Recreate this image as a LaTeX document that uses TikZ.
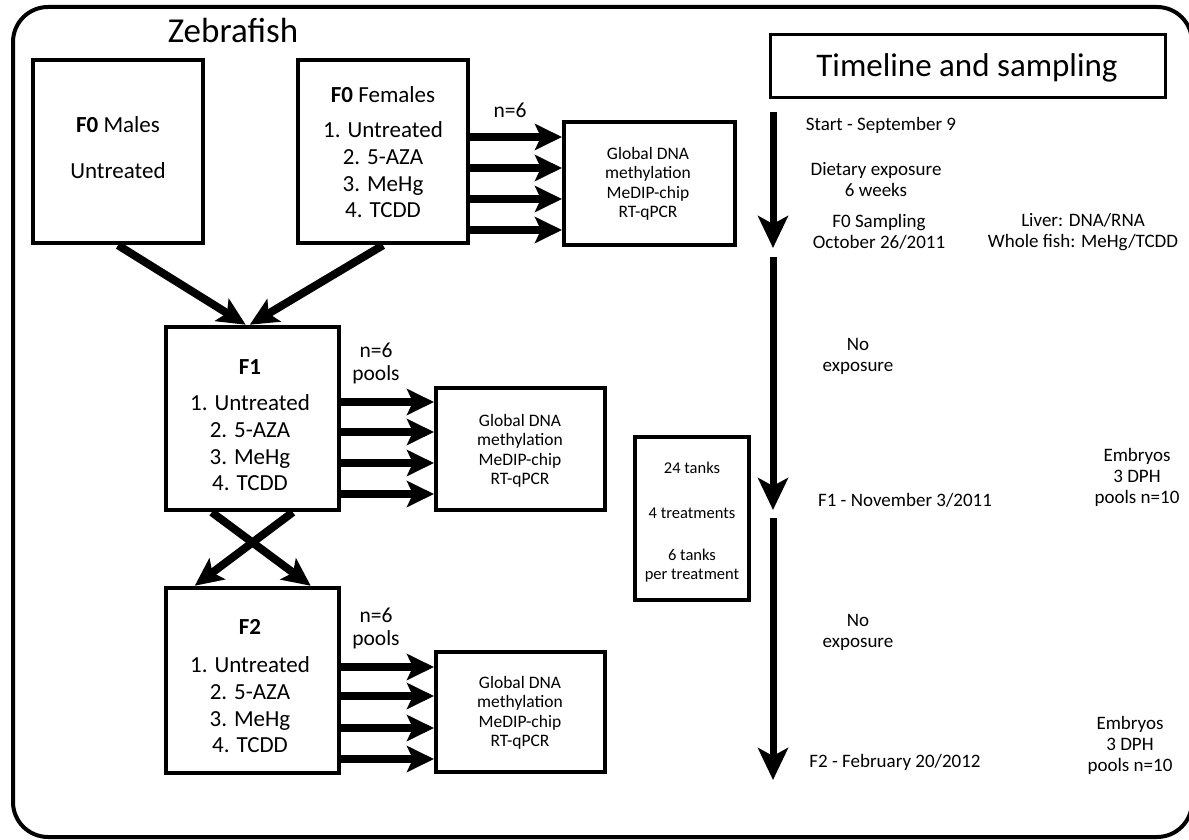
\documentclass[tikz,border=0pt]{standalone}
\usepackage{fontspec}
\setmainfont{Carlito}
\usetikzlibrary{arrows.meta}
\begin{document}
\begin{tikzpicture}[x=1pt,y=-1pt,
  box/.style={draw,line width=4.5pt,inner sep=0pt},
  rbox/.style={draw,line width=4pt,inner sep=0pt},
  fat/.style={line width=7.5pt,-{Stealth[length=27pt,width=26pt,inset=6pt]}},
  cross/.style={line width=8pt,-{Stealth[length=28pt,width=26pt,inset=6pt]}},
  tl/.style={line width=7pt,-{Stealth[length=32pt,width=30pt,inset=8pt]}},
  big/.style={inner sep=0pt,align=center,font=\fontsize{23}{26.7}\selectfont},
  nlab/.style={inner sep=0pt,align=center,font=\fontsize{21.5}{23}\selectfont},
  res/.style={inner sep=0pt,align=center,font=\fontsize{17.5}{19.5}\selectfont},
  tlt/.style={inner sep=0pt,align=center,font=\fontsize{19}{21}\selectfont},
  tank/.style={inner sep=0pt,align=center,font=\fontsize{16.5}{19}\selectfont}]
\useasboundingbox (0,0) rectangle (1189,840);
\fill[white] (0,0) rectangle (1189,840);
% outer frame
\draw[line width=4pt,rounded corners=35pt] (13,7) rectangle (1192,837);
\node[inner sep=0pt,font=\fontsize{35}{40}\selectfont] (zf) at (233,30) {Zebrafish};

% boxes
\node[box,minimum width=170pt,minimum height=183pt] (f0m) at (118,151.5) {};
\node[box,minimum width=170pt,minimum height=183pt] (f0f) at (383,151.5) {};
\node[rbox,minimum width=171pt,minimum height=123pt] (r1) at (649.5,183.5) {};
\node[box,minimum width=173pt,minimum height=183pt] (f1) at (252.5,418.5) {};
\node[rbox,minimum width=169pt,minimum height=122pt] (r2) at (520.5,449) {};
\node[box,minimum width=173pt,minimum height=185pt] (f2) at (252.5,680.5) {};
\node[rbox,minimum width=169pt,minimum height=120pt] (r3) at (520.5,712) {};
\node[draw,line width=3pt,minimum width=395pt,minimum height=63pt,inner sep=0pt] (tlb) at (967.5,66.5) {};
\node[box,minimum width=114pt,minimum height=163pt] (tanks) at (692,518.5) {};

% texts in boxes
\node[big] (f0mt) at (118,125) {\textbf{F0} Males};
\node[big] (f0mu) at (118,171) {Untreated};
\node[big] (f0ft) at (383,95) {\textbf{F0} Females};
\node[big] (f0fl) at (383,170) {1. Untreated\\2. 5-AZA\\3. MeHg\\4. TCDD};
\node[big] (f1t) at (250,367) {\textbf{F1}};
\node[big] (f1l) at (250,443) {1. Untreated\\2. 5-AZA\\3. MeHg\\4. TCDD};
\node[big] (f2t) at (250,627) {\textbf{F2}};
\node[big] (f2l) at (250,705) {1. Untreated\\2. 5-AZA\\3. MeHg\\4. TCDD};
\node[res] (r1t) at (648,184) {Global DNA\\methylation\\MeDIP-chip\\RT-qPCR};
\node[res] (r2t) at (520,451) {Global DNA\\methylation\\MeDIP-chip\\RT-qPCR};
\node[res] (r3t) at (520,713) {Global DNA\\methylation\\MeDIP-chip\\RT-qPCR};
\node[nlab] (n1) at (510,110) {n=6};
\node[nlab] (n2) at (376,363) {n=6\\pools};
\node[nlab] (n3) at (376,628) {n=6\\pools};
\node[inner sep=0pt,font=\fontsize{33}{36}\selectfont] (tlbt) at (967,68) {Timeline and sampling};

% timeline labels
\node[tlt] (s1) at (881,125) {Start - September 9};
\node[tlt] (s2) at (876,180) {Dietary exposure\\6 weeks};
\node[tlt] (s3) at (879,232) {F0 Sampling\\October 26/2011};
\node[tlt] (s4) at (1083,232) {Liver: DNA/RNA\\Whole fish: MeHg/TCDD};
\node[tlt] (s5) at (858,356) {No\\exposure};
\node[tlt] (s6) at (905,500) {F1 - November 3/2011};
\node[tlt] (s7) at (1137,477) {Embryos\\3 DPH\\pools n=10};
\node[tlt] (s8) at (858,632) {No\\exposure};
\node[tlt] (s9) at (895,762) {F2 - February 20/2012};
\node[tlt] (s10) at (1130,745) {Embryos\\3 DPH\\pools n=10};
\node[tank] (t1) at (692,468) {24 tanks};
\node[tank] (t2) at (692,513) {4 treatments};
\node[tank] (t3) at (692,566) {6 tanks\\per treatment};

% timeline arrows
\coordinate (a1s) at (773,112); \coordinate (a1e) at (773,248);
\coordinate (a2s) at (773,257); \coordinate (a2e) at (773,510);
\coordinate (a3s) at (773,518); \coordinate (a3e) at (773,780);
\draw[tl] (a1s) -- (a1e);
\draw[tl] (a2s) -- (a2e);
\draw[tl] (a3s) -- (a3e);

% horizontal arrows
\foreach \y [count=\i] in {137,168,199,230} {
  \coordinate (ya\i) at (0,\y);
  \draw[fat] (f0f.east |- ya\i) -- (r1.west |- ya\i);
}
\foreach \y [count=\i] in {402,432,463,494} {
  \coordinate (yb\i) at (0,\y);
  \draw[fat] (f1.east |- yb\i) -- (r2.west |- yb\i);
}
\foreach \y [count=\i] in {667,696,728,759} {
  \coordinate (yc\i) at (0,\y);
  \draw[fat] (f2.east |- yc\i) -- (r3.west |- yc\i);
}

% converging arrows
\draw[cross] (f0m.south) -- ([xshift=82pt]f1.north west);
\draw[cross] (f0f.south) -- ([xshift=86pt]f1.north west);
% crossing arrows
\draw[cross] ([xshift=48pt]f1.south west) -- ([xshift=147pt]f2.north west);
\draw[cross] ([xshift=129pt]f1.south west) -- ([xshift=31pt]f2.north west);
\end{tikzpicture}
\end{document}
